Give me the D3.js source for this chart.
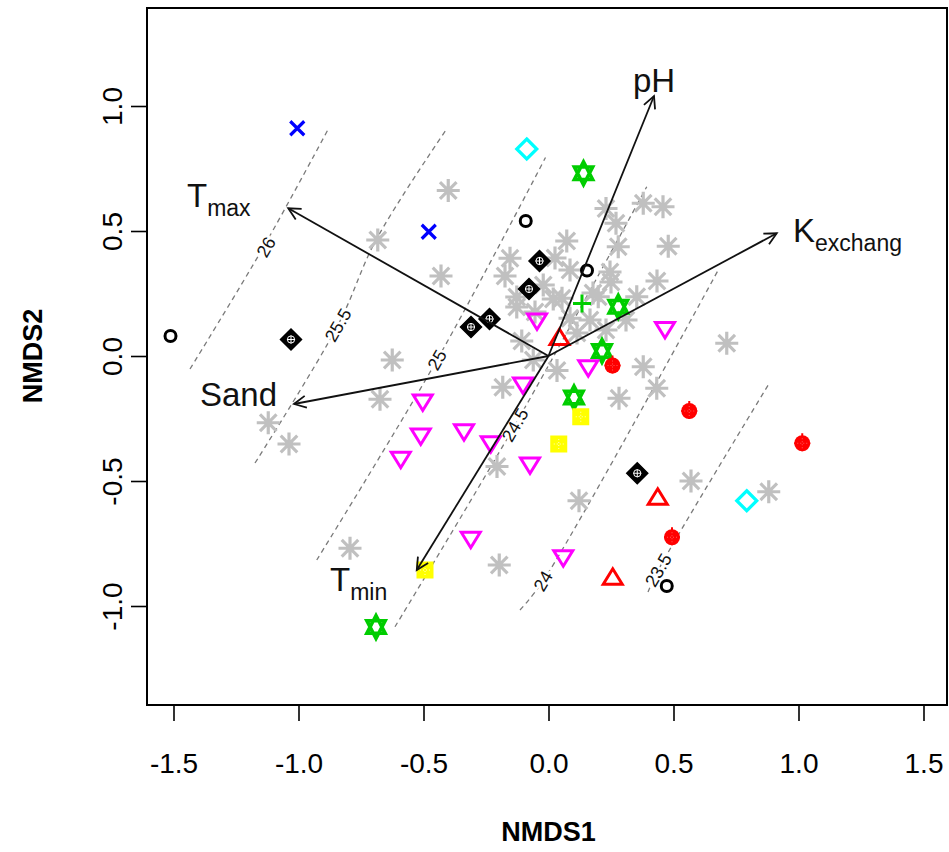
<!DOCTYPE html>
<html>
<head>
<meta charset="utf-8">
<script src="https://cdn.jsdelivr.net/npm/d3@7"></script>
<style>
  body { margin: 0; background: #fff; }
  svg { display: block; font-family: "Liberation Sans", Arial, sans-serif; }
</style>
</head>
<body>
<div id="chart"></div>
<script>
const W = 949;
const H = 852;

// ---- data (NMDS scores) ----
const xTicks = [-1.5, -1.0, -0.5, 0.0, 0.5, 1.0, 1.5];
const yTicks = [-1.0, -0.5, 0.0, 0.5, 1.0];

const grayPts = [
  [-0.401, 0.662], [-0.683, 0.464], [-0.430, 0.320], [-0.625, -0.016], [-0.674, -0.173],
  [-1.121, -0.267], [-1.038, -0.352], [-0.794, -0.769], [-0.197, -0.836], [-0.206, -0.442],
  [-0.183, -0.125], [0.122, -0.579], [0.570, -0.500], [0.881, -0.543], [0.713, 0.051],
  [0.379, -0.043], [0.433, -0.129], [0.282, -0.169], [0.034, -0.058], [-0.061, -0.016],
  [-0.154, 0.391], [-0.174, 0.320], [-0.127, 0.236], [-0.127, 0.196], [-0.021, 0.284],
  [0.019, 0.228], [0.026, 0.392], [0.073, 0.460], [0.230, 0.590], [0.379, 0.611],
  [0.458, 0.597], [0.270, 0.531], [0.279, 0.437], [0.479, 0.439], [0.086, 0.344],
  [0.246, 0.336], [0.434, 0.300], [0.054, 0.231], [0.199, 0.237], [0.353, 0.237],
  [0.166, 0.144], [-0.107, 0.060], [0.086, 0.151], [0.114, 0.092], [0.250, 0.296],
  [0.310, 0.144], [0.230, 0.104], [-0.054, 0.176], [0.178, 0.252]
];
const bluePts = [[-1.005, 0.911], [-0.479, 0.497]];
const cyanPts = [[-0.087, 0.828], [0.793, -0.579]];
const circlePts = [[-1.512, 0.080], [-0.091, 0.540], [0.154, 0.342], [0.473, -0.920]];
const blackDiamondPts = [[-1.030, 0.066], [-0.310, 0.116], [-0.236, 0.148], [-0.036, 0.380], [-0.078, 0.268], [0.355, -0.469]];
const starPts = [[0.140, 0.731], [0.279, 0.197], [0.214, 0.020], [0.102, -0.166], [-0.690, -1.084]];
const plusPts = [[0.134, 0.210]];
const downTriPts = [
  [-0.046, 0.144], [0.466, 0.110], [0.159, -0.043], [-0.102, -0.112], [-0.503, -0.180],
  [-0.511, -0.316], [-0.338, -0.299], [-0.231, -0.347], [-0.591, -0.409], [-0.074, -0.432],
  [0.059, -0.803], [-0.311, -0.729]
];
const upTriPts = [[0.044, 0.070], [0.437, -0.569], [0.257, -0.889]];
const redDotPts = [[0.256, -0.038], [0.563, -0.220], [1.015, -0.349], [0.494, -0.725]];
const yellowPts = [[0.129, -0.243], [0.041, -0.352], [-0.494, -0.856]];

// fitted surface contours
const contourLevels = ['26', '25.5', '25', '24.5', '24', '23.5'];
const contourLines = [
  [[-1.434, -0.052], [-1.140, 0.436], [-0.877, 0.915]],
  [[-1.174, -0.428], [-0.842, 0.124], [-0.690, 0.464], [-0.410, 0.904]],
  [[-0.927, -0.816], [-0.446, -0.016], [-0.012, 0.794]],
  [[-0.614, -1.083], [-0.134, -0.276], [0.393, 0.677]],
  [[-0.114, -1.016], [-0.022, -0.900], [0.679, 0.344]],
  [[0.398, -0.944], [0.439, -0.856], [0.879, -0.116]]
];
const contourLabelPos = [[-1.130, 0.436], [-0.842, 0.124], [-0.446, -0.016], [-0.134, -0.276], [-0.022, -0.900], [0.439, -0.856]];

// environmental vectors
const vecNames = ['pH', 'K', 'T', 'Sand', 'T'];
const vecSubs = ['', 'exchang', 'max', '', 'min'];
const vecX = [0.422, 0.913, -1.041, -1.018, -0.527];
const vecY = [1.040, 0.491, 0.591, -0.192, -0.856];
const vecLabelX = [0.338, 0.978, -1.446, -1.394, -0.874];
const vecLabelY = [1.056, 0.456, 0.596, -0.200, -0.940];

// ---- scales ----
const x = d3.scaleLinear().domain([-1.606, 1.594]).range([147, 947]);
const y = d3.scaleLinear().domain([-1.396, 1.392]).range([705, 8]);

const svg = d3.select('#chart').append('svg').attr('width', W).attr('height', H);

// contours
const line = d3.line().x(d => x(d[0])).y(d => y(d[1])).curve(d3.curveCatmullRom);
contourLines.forEach((pts, i) => {
  svg.append('path')
    .attr('d', line(pts))
    .attr('fill', 'none')
    .attr('stroke', '#7a7a7a')
    .attr('stroke-width', 1.3)
    .attr('stroke-dasharray', '5,4');
  const a = pts[0], b = pts[pts.length - 1];
  const ang = Math.atan2(y(b[1]) - y(a[1]), x(b[0]) - x(a[0])) * 180 / Math.PI;
  const p = contourLabelPos[i];
  svg.append('text')
    .attr('transform', `translate(${x(p[0])},${y(p[1])}) rotate(${ang})`)
    .attr('text-anchor', 'middle')
    .attr('dy', '0.35em')
    .attr('font-size', 18)
    .attr('fill', '#111')
    .attr('stroke', '#fff')
    .attr('stroke-width', 5)
    .attr('paint-order', 'stroke')
    .text(contourLevels[i]);
});

// point symbols
const drawPts = (pts, draw) => {
  pts.forEach(d => {
    const g = svg.append('g').attr('transform', `translate(${x(d[0])},${y(d[1])})`);
    draw(g);
  });
};
const stroke = (sel, col, w) => sel.attr('fill', 'none').attr('stroke', col).attr('stroke-width', w);

drawPts(grayPts, g => {
  const r = 11.5, q = r * 0.72;
  stroke(g.append('path').attr('d', `M${-r},0H${r}M0,${-r}V${r}M${-q},${-q}L${q},${q}M${-q},${q}L${q},${-q}`), '#c0c0c0', 3.2);
});
drawPts(bluePts, g => {
  const r = 7;
  stroke(g.append('path').attr('d', `M${-r},${-r}L${r},${r}M${-r},${r}L${r},${-r}`), '#0000ff', 3.2);
});
drawPts(cyanPts, g => {
  const r = 10;
  stroke(g.append('path').attr('d', `M0,${-r}L${r},0L0,${r}L${-r},0Z`), '#00ffff', 3.2);
});
drawPts(circlePts, g => {
  stroke(g.append('circle').attr('r', 5.5), '#000', 3);
});
drawPts(blackDiamondPts, g => {
  const r = 10.5;
  g.append('path').attr('d', `M0,${-r}L${r},0L0,${r}L${-r},0Z`).attr('fill', '#000').attr('stroke', '#000').attr('stroke-width', 1.5);
  stroke(g.append('circle').attr('r', 3.6), '#fff', 1);
  stroke(g.append('path').attr('d', 'M-4,0H4M0,-4V4'), '#fff', 1);
});
drawPts(starPts, g => {
  const r = 11.5;
  stroke(g.append('path').attr('d', `M0,${-r}L${r * 0.8},${r * 0.55}L${-r * 0.8},${r * 0.55}ZM0,${r}L${r * 0.8},${-r * 0.55}L${-r * 0.8},${-r * 0.55}Z`), '#00cd00', 3.5);
});
drawPts(plusPts, g => {
  const r = 9;
  stroke(g.append('path').attr('d', `M${-r},0H${r}M0,${-r}V${r}`), '#00cd00', 3);
});
drawPts(downTriPts, g => {
  stroke(g.append('path').attr('d', 'M-9.5,-6L9.5,-6L0,9.5Z'), '#ff00ff', 3);
});
drawPts(upTriPts, g => {
  stroke(g.append('path').attr('d', 'M-9.5,6L9.5,6L0,-9.5Z'), '#ff0000', 3);
});
drawPts(redDotPts, g => {
  g.append('circle').attr('r', 8).attr('fill', '#ff0000');
  stroke(g.append('path').attr('d', 'M-8,0H8M0,-10V8'), '#ff0000', 2);
  stroke(g.append('path').attr('d', 'M-5,0H5M0,-5V5'), '#ff7070', 0.8).attr('stroke-dasharray', '1,2');
});
drawPts(yellowPts, g => {
  g.append('rect').attr('x', -8.5).attr('y', -8.5).attr('width', 17).attr('height', 17).attr('fill', '#ffff00');
  stroke(g.append('path').attr('d', 'M-5,0H5M0,-5V5'), '#ffffc0', 1).attr('stroke-dasharray', '1,2');
});

// vectors
svg.append('defs').append('marker')
  .attr('id', 'head')
  .attr('viewBox', '-14 -8 16 16')
  .attr('markerWidth', 16)
  .attr('markerHeight', 16)
  .attr('markerUnits', 'userSpaceOnUse')
  .attr('orient', 'auto')
  .append('path')
  .attr('d', 'M-12,-6L0,0L-12,6')
  .attr('fill', 'none')
  .attr('stroke', '#111')
  .attr('stroke-width', 1.8);

vecNames.forEach((name, i) => {
  svg.append('line')
    .attr('x1', x(0)).attr('y1', y(0))
    .attr('x2', x(vecX[i])).attr('y2', y(vecY[i]))
    .attr('stroke', '#111')
    .attr('stroke-width', 1.8)
    .attr('marker-end', 'url(#head)');
  const t = svg.append('text')
    .attr('x', x(vecLabelX[i]))
    .attr('y', y(vecLabelY[i]))
    .attr('font-size', 33)
    .attr('fill', '#111')
    .text(name);
  if (vecSubs[i]) {
    t.append('tspan').attr('font-size', 23).attr('dy', 9).text(vecSubs[i]);
  }
});

// axes
const xAxis = svg.append('g')
  .attr('transform', `translate(0,705)`)
  .call(d3.axisBottom(x).tickValues(xTicks).tickFormat(d => d.toFixed(1)).tickSize(16).tickPadding(32));
const yAxis = svg.append('g')
  .attr('transform', `translate(147,0)`)
  .call(d3.axisLeft(y).tickValues(yTicks).tickFormat(d => d.toFixed(1)).tickSize(16));
[xAxis, yAxis].forEach(a => {
  a.select('.domain').remove();
  a.selectAll('line').attr('stroke', '#000').attr('stroke-width', 1.6);
  a.selectAll('text').attr('font-size', 28).attr('fill', '#000').attr('font-family', '"Liberation Sans", Arial, sans-serif');
});
yAxis.selectAll('text')
  .attr('transform', 'rotate(-90)')
  .attr('x', 0)
  .attr('y', -25)
  .attr('dy', 0)
  .attr('text-anchor', 'middle');

// box
svg.append('rect')
  .attr('x', 147).attr('y', 8)
  .attr('width', 800).attr('height', 697)
  .attr('fill', 'none')
  .attr('stroke', '#000')
  .attr('stroke-width', 2);

// titles
svg.append('text')
  .attr('x', x(0)).attr('y', 841)
  .attr('text-anchor', 'middle')
  .attr('font-size', 27)
  .attr('font-weight', 'bold')
  .text('NMDS1');
svg.append('text')
  .attr('transform', `translate(42,${y(0)}) rotate(-90)`)
  .attr('text-anchor', 'middle')
  .attr('font-size', 27)
  .attr('font-weight', 'bold')
  .text('NMDS2');
</script>
</body>
</html>
